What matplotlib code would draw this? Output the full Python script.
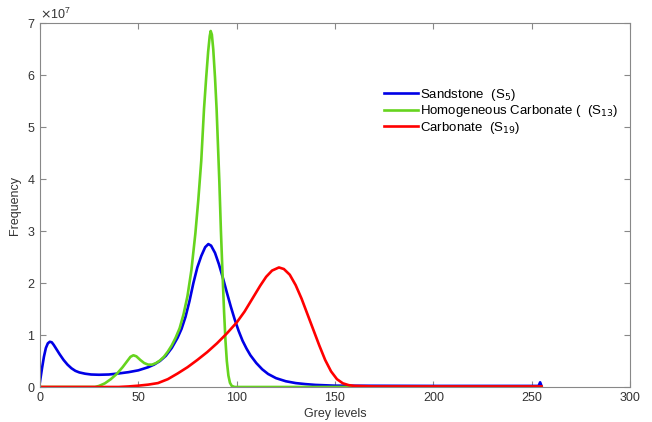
import matplotlib
matplotlib.use("Agg")
import matplotlib.pyplot as plt
from matplotlib.ticker import ScalarFormatter

plt.rcParams['font.family'] = ['Liberation Sans', 'DejaVu Sans']

# grey levels and frequencies (units of 1e7)
sand_x = [0, 1, 2, 3, 4, 5, 6, 7, 8, 10, 12, 14, 16, 18, 20, 23, 26, 30, 35, 40,
          45, 50, 55, 58, 61, 64, 67, 70, 72, 74, 76, 78, 80, 82, 84, 85.6, 87,
          89, 91, 93, 95, 97, 99, 101, 103, 105, 107, 110, 113, 116, 120, 125,
          130, 135, 140, 150, 200, 253.5, 254.3, 255]
sand_y = [0.1, 0.35, 0.58, 0.75, 0.84, 0.87, 0.86, 0.81, 0.75, 0.63, 0.52, 0.43,
          0.36, 0.31, 0.28, 0.255, 0.24, 0.235, 0.24, 0.26, 0.285, 0.32, 0.38,
          0.43, 0.5, 0.6, 0.75, 0.95, 1.12, 1.35, 1.65, 2.0, 2.3, 2.52, 2.69,
          2.75, 2.72, 2.58, 2.36, 2.1, 1.82, 1.55, 1.3, 1.08, 0.89, 0.74, 0.61,
          0.46, 0.34, 0.25, 0.17, 0.11, 0.075, 0.055, 0.04, 0.025, 0.02, 0.02,
          0.09, 0.02]

homo_x = [0, 28, 30, 33, 36, 39, 42, 44, 46, 47.5, 49, 51, 53, 55, 57, 59, 61,
          63, 65, 67, 69, 71, 73, 75, 77, 79, 80.5, 82, 83.4, 84.5, 85.5, 86.3,
          86.8, 87.4, 88.1, 89, 89.8, 90.5, 91.2, 92, 92.9, 93.6, 94.3, 95, 95.8,
          96.6, 97.5, 99, 255]
homo_y = [0, 0, 0.02, 0.07, 0.15, 0.25, 0.38, 0.48, 0.58, 0.61, 0.59, 0.52, 0.46,
          0.43, 0.43, 0.46, 0.51, 0.58, 0.68, 0.8, 0.95, 1.13, 1.4, 1.75, 2.25,
          2.95, 3.6, 4.35, 5.35, 5.95, 6.45, 6.75, 6.85, 6.78, 6.5, 5.95, 5.35,
          4.65, 3.95, 3.0, 2.1, 1.45, 0.9, 0.5, 0.22, 0.08, 0.02, 0, 0]

carb_x = [0, 40, 45, 50, 55, 60, 65, 70, 75, 80, 85, 90, 95, 100, 104, 108, 112,
          115, 118, 121.5, 124, 127, 130, 133, 136, 139, 142, 145, 148, 151, 154,
          157, 160, 170, 255]
carb_y = [0, 0, 0.01, 0.025, 0.045, 0.075, 0.15, 0.26, 0.38, 0.52, 0.67, 0.84,
          1.03, 1.24, 1.45, 1.7, 1.95, 2.12, 2.24, 2.3, 2.27, 2.16, 1.96, 1.7,
          1.4, 1.1, 0.8, 0.52, 0.3, 0.15, 0.07, 0.035, 0.02, 0.01, 0.01]

labels = ['Sandstone  (S$_5$)', 'Homogeneous Carbonate (  (S$_{13}$)',
          'Carbonate  (S$_{19}$)']
colors = ['#0000e6', '#66d41e', '#ff0000']

fig = plt.figure(figsize=(6.52, 4.22), dpi=100)
ax = fig.add_axes([0.0613, 0.083, 0.905, 0.862])

for xs, ys, lab, c in zip([sand_x, homo_x, carb_x], [sand_y, homo_y, carb_y],
                          labels, colors):
    ax.plot(xs, [v * 1e7 for v in ys], color=c, lw=1.9, label=lab,
            solid_joinstyle='round')

ax.set_xlim(0, 300)
ax.set_ylim(0, 7e7)
ax.set_xticks(range(0, 301, 50))
ax.set_yticks([i * 1e7 for i in range(8)])
fmt = ScalarFormatter(useMathText=True)
fmt.set_powerlimits((0, 0))
ax.yaxis.set_major_formatter(fmt)
ax.yaxis.get_offset_text().set_fontsize(9)
ax.yaxis.get_offset_text().set_color('#333333')

ax.tick_params(direction='in', top=True, right=True, length=4, width=0.8,
               colors='#888888', labelcolor='#333333', labelsize=9)
for s in ax.spines.values():
    s.set_color('#888888')
    s.set_linewidth(0.8)

ax.set_xlabel('Grey levels', fontsize=9, color='#333333', labelpad=3)
ax.set_ylabel('Frequency', fontsize=9, color='#333333')

ax.legend(loc='upper left', bbox_to_anchor=(0.583, 0.826), frameon=False,
          fontsize=9.5, handlelength=2.6, handletextpad=0.15, labelspacing=0.05,
          borderpad=0, borderaxespad=0)

fig.savefig('out.png', dpi=100)
